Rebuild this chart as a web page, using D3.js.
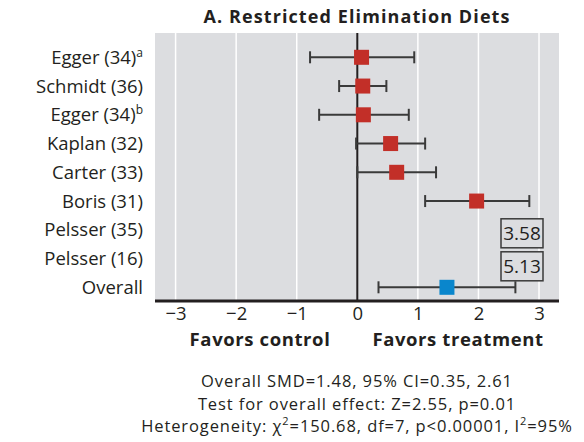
<!DOCTYPE html>
<html>
<head>
<meta charset="utf-8">
<script src="https://cdn.jsdelivr.net/npm/d3@7"></script>
<style>
  body { margin: 0; background: #fff; }
  text { font-family: "Open Sans", "Noto Sans", sans-serif; fill: #231f20; }
</style>
</head>
<body>
<div class="chart"></div>
<script>
// study labels, superscripts and effect sizes (SMD with 95% CI)
var studies = ['Egger (34)', 'Schmidt (36)', 'Egger (34)', 'Kaplan (32)', 'Carter (33)',
    'Boris (31)', 'Pelsser (35)', 'Pelsser (16)', 'Overall'];
var sups = ['a', '', 'b', '', '', '', '', '', ''];
var smd = [0.07, 0.09, 0.10, 0.55, 0.65, 1.97, 3.58, 5.13, 1.48];
var lower = [-0.78, -0.30, -0.63, -0.02, 0.00, 1.12, null, null, 0.35];
var upper = [0.94, 0.48, 0.85, 1.12, 1.30, 2.84, null, null, 2.61];
var ticks = [-3, -2, -1, 0, 1, 2, 3];
var footer = [
    'Overall SMD=1.48, 95% CI=0.35, 2.61',
    'Test for overall effect: Z=2.55, p=0.01'
];

var data = studies.map((s, i) => ({
    name: s, sup: sups[i], smd: smd[i], lo: lower[i], hi: upper[i],
    overall: s === 'Overall', i: i
}));

var W = 584, H = 442;
var margin = { top: 33, right: 25, bottom: 141, left: 155 };
var width = W - margin.left - margin.right;
var height = H - margin.top - margin.bottom;

var svg = d3.select('.chart')
    .append('svg')
    .attr('width', W)
    .attr('height', H);

var g = svg.append('g')
    .attr('transform', 'translate(' + margin.left + ',' + margin.top + ')');

var x = d3.scaleLinear()
    .domain([-3.34, 3.33])
    .range([0, width]);

var y = d3.scalePoint()
    .domain(d3.range(studies.length))
    .range([24.3, 254.3]);

// panel background
g.append('rect')
    .attr('width', width)
    .attr('height', height)
    .attr('fill', '#dcdde0');

// white gridlines (zero is drawn in black below)
g.selectAll('.grid')
    .data(ticks.filter(t => t !== 0))
    .enter().append('line')
    .attr('x1', d => x(d)).attr('x2', d => x(d))
    .attr('y1', 0).attr('y2', height)
    .attr('stroke', '#fff')
    .attr('stroke-width', 1.5);

g.append('line')
    .attr('x1', x(0)).attr('x2', x(0))
    .attr('y1', 0).attr('y2', height)
    .attr('stroke', '#231f20')
    .attr('stroke-width', 2);

// x axis: thick line, no ticks
var xAxis = d3.axisBottom(x)
    .tickValues(ticks)
    .tickSize(0)
    .tickPadding(6)
    .tickFormat(d => d < 0 ? '\u2212' + Math.abs(d) : d);
var ax = g.append('g')
    .attr('transform', 'translate(0,' + height + ')')
    .call(xAxis);
ax.select('.domain').remove();
ax.selectAll('text')
    .style('font-size', '18.5px')
    .attr('fill', '#231f20');
ax.append('line')
    .attr('x1', 0).attr('x2', width)
    .attr('y1', 0).attr('y2', 0)
    .attr('stroke', '#231f20')
    .attr('stroke-width', 3);

// row labels
var labels = svg.append('g')
    .selectAll('text')
    .data(data)
    .enter().append('text')
    .attr('x', 143)
    .attr('y', d => margin.top + y(d.i))
    .attr('dy', '0.36em')
    .attr('text-anchor', 'end')
    .style('font-size', '18.5px');
labels.append('tspan').text(d => d.name);
labels.filter(d => d.sup)
    .append('tspan')
    .attr('dy', '-7')
    .style('font-size', '12px')
    .text(d => d.sup);

// confidence intervals
var inScale = data.filter(d => d.lo !== null);
var ci = g.selectAll('.ci')
    .data(inScale)
    .enter().append('g')
    .attr('stroke', '#3a3a3a')
    .attr('stroke-width', 2);
ci.append('line')
    .attr('x1', d => x(d.lo)).attr('x2', d => x(d.hi))
    .attr('y1', d => y(d.i)).attr('y2', d => y(d.i));
ci.append('line')
    .attr('x1', d => x(d.lo)).attr('x2', d => x(d.lo))
    .attr('y1', d => y(d.i) - 6).attr('y2', d => y(d.i) + 6);
ci.append('line')
    .attr('x1', d => x(d.hi)).attr('x2', d => x(d.hi))
    .attr('y1', d => y(d.i) - 6).attr('y2', d => y(d.i) + 6);

// squares
var sz = 15;
g.selectAll('.pt')
    .data(inScale)
    .enter().append('rect')
    .attr('x', d => x(d.smd) - sz / 2)
    .attr('y', d => y(d.i) - sz / 2)
    .attr('width', sz)
    .attr('height', sz)
    .attr('fill', d => d.overall ? '#0a86cc' : '#c22f28');

// off-scale values shown in boxes
var off = data.filter(d => d.lo === null);
var boxW = 42, boxH = 29;
var ob = g.selectAll('.off')
    .data(off)
    .enter().append('g')
    .attr('transform', (d, k) => 'translate(' + (x(3.33) - 16 - boxW) + ',' +
        (y(off[0].i) - 11 + k * (boxH + 4)) + ')');
ob.append('rect')
    .attr('width', boxW)
    .attr('height', boxH)
    .attr('fill', '#dcdde0')
    .attr('stroke', '#3a3a3a')
    .attr('stroke-width', 1.5);
ob.append('text')
    .attr('x', boxW / 2)
    .attr('y', boxH / 2)
    .attr('dy', '0.36em')
    .attr('text-anchor', 'middle')
    .style('font-size', '19px')
    .text(d => d.smd.toFixed(2));

// title
svg.append('text')
    .attr('x', margin.left + width / 2)
    .attr('y', 23)
    .attr('text-anchor', 'middle')
    .style('font-size', '18px')
    .style('font-weight', 'bold')
    .style('letter-spacing', '1.1px')
    .text('A. Restricted Elimination Diets');

// favors labels
svg.append('text')
    .attr('x', 260)
    .attr('y', 346)
    .attr('text-anchor', 'middle')
    .style('font-size', '18.5px')
    .style('font-weight', 'bold')
    .style('letter-spacing', '0.6px')
    .text('Favors control');
svg.append('text')
    .attr('x', 458)
    .attr('y', 346)
    .attr('text-anchor', 'middle')
    .style('font-size', '18.5px')
    .style('font-weight', 'bold')
    .style('letter-spacing', '0.6px')
    .text('Favors treatment');

// footer statistics
var foot = svg.append('g')
    .attr('text-anchor', 'middle')
    .style('font-size', '16.5px')
    .style('letter-spacing', '0.9px');
foot.selectAll('text.f')
    .data(footer)
    .enter().append('text')
    .attr('x', 357)
    .attr('y', (d, i) => 387 + i * 22.5)
    .text(d => d);
var het = foot.append('text')
    .attr('x', 357)
    .attr('y', 432);
het.append('tspan').text('Heterogeneity: \u03c7');
het.append('tspan').attr('dy', -7).style('font-size', '11px').text('2');
het.append('tspan').attr('dy', 7).text('=150.68, df=7, p<0.00001, I');
het.append('tspan').attr('dy', -7).style('font-size', '11px').text('2');
het.append('tspan').attr('dy', 7).text('=95%');
</script>
</body>
</html>
